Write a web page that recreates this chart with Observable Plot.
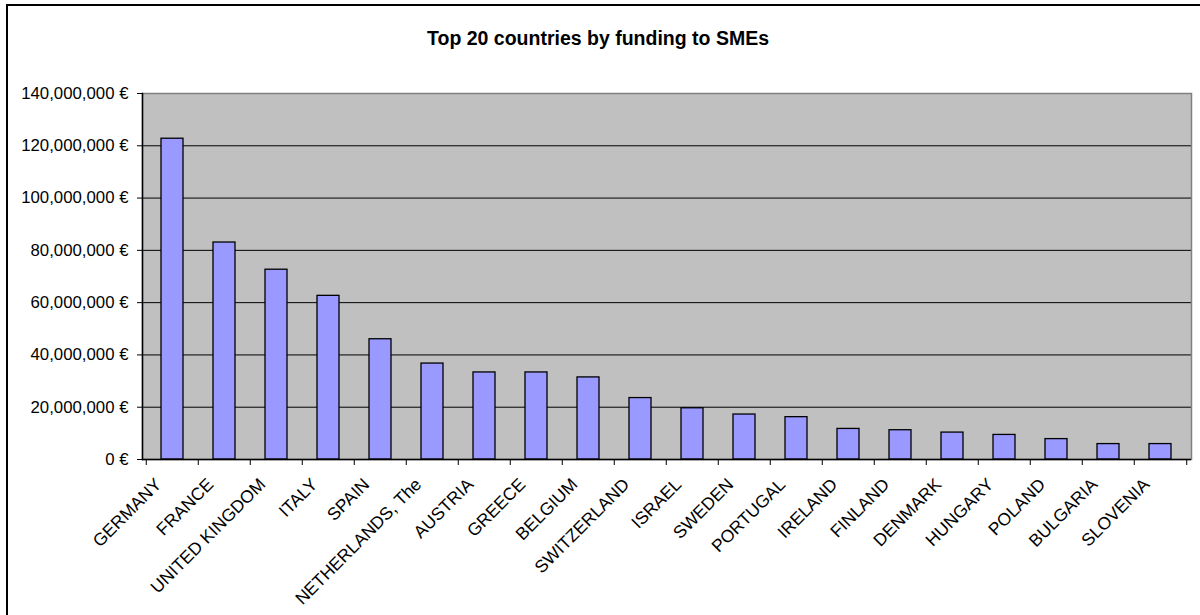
<!DOCTYPE html>
<html><head><meta charset="utf-8">
<script src="https://cdn.jsdelivr.net/npm/d3@7"></script>
<script src="https://cdn.jsdelivr.net/npm/@observablehq/plot@0.6"></script>
<style>
html,body{margin:0;padding:0;background:#fff;overflow:hidden;width:1200px;height:615px;}
#wrap{position:relative;width:1200px;height:615px;}
#chart{position:absolute;left:0;top:0;}
#border{position:absolute;left:6px;top:4px;width:1400px;height:800px;border:2px solid #000;pointer-events:none;}
#title{position:absolute;left:0;width:1196px;top:27px;line-height:20px;text-align:center;font:bold 19.5px "Liberation Sans",Arial,sans-serif;color:#000;}
</style></head><body>
<div id="wrap"><div id="chart"></div><div id="border"></div><div id="title">Top 20 countries by funding to SMEs</div></div>
<script>
const countries = ["GERMANY","FRANCE","UNITED KINGDOM","ITALY","SPAIN","NETHERLANDS, The","AUSTRIA","GREECE","BELGIUM","SWITZERLAND","ISRAEL","SWEDEN","PORTUGAL","IRELAND","FINLAND","DENMARK","HUNGARY","POLAND","BULGARIA","SLOVENIA"];
const funding = [122.7e6, 83.0e6, 72.6e6, 62.6e6, 46.0e6, 36.7e6, 33.3e6, 33.3e6, 31.4e6, 23.5e6, 19.6e6, 17.2e6, 16.2e6, 11.7e6, 11.2e6, 10.3e6, 9.4e6, 7.8e6, 5.9e6, 5.9e6];
const yTicks = [0, 20e6, 40e6, 60e6, 80e6, 100e6, 120e6, 140e6];

const data = countries.map((c, i) => ({country: c, value: funding[i]}));
const W = 1200, ML = 142, MR = 9;
const half = (W - ML - MR) / countries.length / 2;
const fmt = d => d3.format(",")(d) + " €";

const chart = Plot.plot({
  width: W, height: 615,
  marginLeft: ML, marginRight: MR, marginTop: 93, marginBottom: 156,
  style: {fontFamily: '"Liberation Sans", Arial, sans-serif', fontSize: "16.8px", color: "#000", background: "transparent"},
  x: {domain: countries, paddingInner: 0.57, paddingOuter: 0.285, align: 0.5},
  y: {domain: [0, 140e6]},
  marks: [
    Plot.frame({fill: "#C0C0C0"}),
    Plot.gridY(yTicks.filter(d => d > 0 && d < 140e6), {stroke: "#000", strokeOpacity: 1, strokeWidth: 1}),
    Plot.frame({stroke: "#808080", strokeWidth: 1.5}),
    Plot.barY(data, {x: "country", y: "value", fill: "#9999FF", stroke: "#000", strokeWidth: 1.3}),
    Plot.frame({anchor: "left", stroke: "#000", strokeWidth: 1.5}),
    Plot.ruleY([0], {stroke: "#000", strokeWidth: 1.5}),
    Plot.axisY({ticks: yTicks, tickSize: 5, tickPadding: 9, tickFormat: fmt, label: null, fontSize: 16.8}),
    Plot.axisX({tickSize: 6, tickFormat: () => "", label: null, dx: -half}),
    Plot.axisX({ticks: [countries[countries.length - 1]], tickSize: 6, tickFormat: () => "", label: null, dx: half}),
    Plot.text(countries, {x: d => d, frameAnchor: "bottom", rotate: -45, textAnchor: "end", lineAnchor: "bottom", dx: -10, dy: 26, fontSize: 17.5, fill: "#000"})
  ]
});
document.getElementById("chart").appendChild(chart);
</script>
</body></html>
